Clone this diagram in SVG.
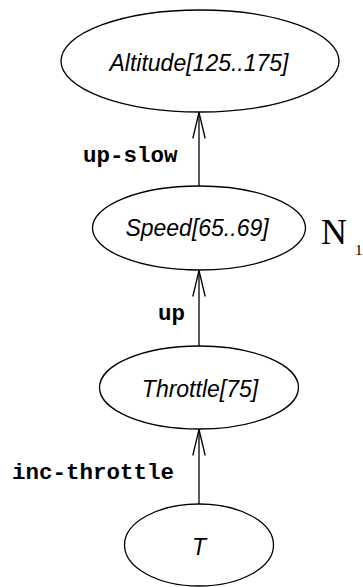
<svg xmlns="http://www.w3.org/2000/svg" width="363" height="587" viewBox="0 0 363 587">
  <style>
    .node { fill: #ffffff; stroke: #000000; stroke-width: 1.3; }
    .label { font-family: "Liberation Sans", Arial, sans-serif; font-style: italic; font-size: 23px; fill: #000000; text-anchor: middle; }
    .edge { stroke: #000000; stroke-width: 1.3; fill: none; }
    .elabel { font-family: "Liberation Mono", "Courier New", monospace; font-weight: bold; font-size: 22.5px; fill: #000000; }
    .math { font-family: "Liberation Serif", "Times New Roman", serif; fill: #000000; }
  </style>
  <defs>
    <!-- open V arrowhead, tip at the end of the line -->
    <marker id="open-arrow" viewBox="0 0 28 14" refX="27" refY="7" markerWidth="28" markerHeight="14" markerUnits="userSpaceOnUse" orient="auto" overflow="visible">
      <path d="M1,0.8 L27,7 L1,13.2" fill="none" stroke="#000000" stroke-width="1.3"/>
    </marker>
  </defs>

  <g id="altitude">
    <ellipse class="node" cx="200" cy="61" rx="139" ry="51"/>
    <text class="label" x="199" y="71">Altitude[125..175]</text>
  </g>

  <g id="speed">
    <ellipse class="node" cx="199" cy="228" rx="106.5" ry="42"/>
    <text class="label" x="197" y="236">Speed[65..69]</text>
  </g>

  <g id="n1-label">
    <text class="math" x="321" y="244" font-size="36">N</text>
    <text class="math" x="355" y="255" font-size="15">1</text>
  </g>

  <g id="throttle">
    <ellipse class="node" cx="199" cy="387.5" rx="99.5" ry="41.5"/>
    <text class="label" x="200" y="397">Throttle[75]</text>
  </g>

  <g id="top">
    <ellipse class="node" cx="199" cy="545" rx="74.5" ry="41"/>
    <text class="label" x="199" y="555">T</text>
  </g>

  <g id="connectors">
    <line class="edge" x1="199" y1="186" x2="199" y2="112.5" marker-end="url(#open-arrow)"/>
    <text class="elabel" x="83" y="162">up-slow</text>
    <line class="edge" x1="199" y1="346" x2="199" y2="270.5" marker-end="url(#open-arrow)"/>
    <text class="elabel" x="158" y="320">up</text>
    <line class="edge" x1="199" y1="504" x2="199" y2="429.5" marker-end="url(#open-arrow)"/>
    <text class="elabel" x="12" y="479">inc-throttle</text>
  </g>
</svg>
